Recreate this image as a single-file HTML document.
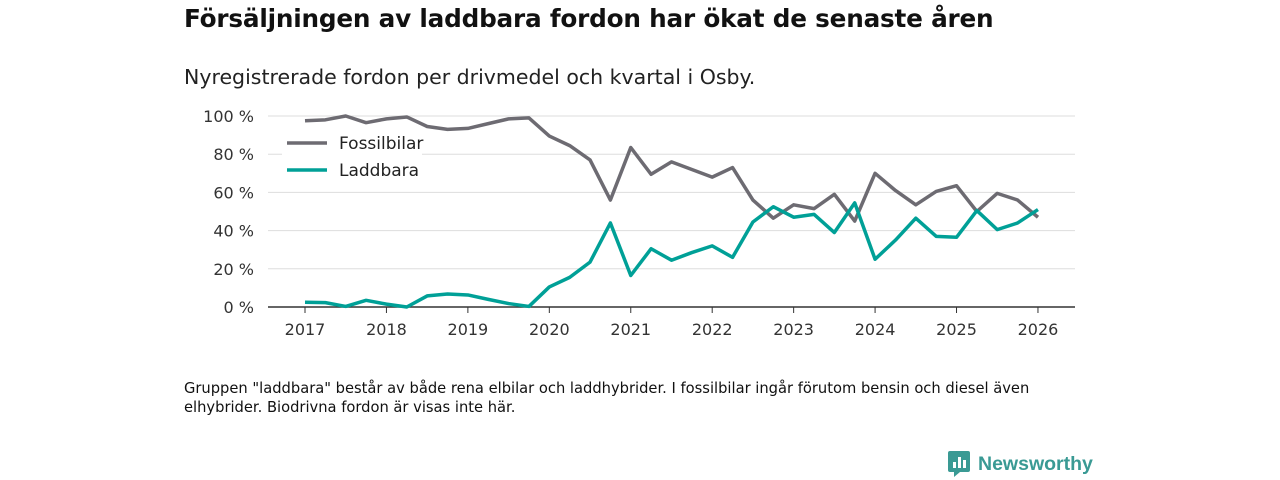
<!DOCTYPE html>
<html><head><meta charset="utf-8"><style>
body{margin:0;width:1280px;height:480px;background:#fff;font-family:"DejaVu Sans","Liberation Sans",sans-serif;color:#111;position:relative;overflow:hidden}
#title{position:absolute;left:184px;top:4px;font-size:24.7px;font-weight:bold;letter-spacing:-0.2px}
#sub{position:absolute;left:184px;top:65px;font-size:20.5px;color:#222}
#note{position:absolute;left:184px;top:379px;font-size:14.7px;line-height:19px;width:870px}
#logo{position:absolute;left:948px;top:451px;display:flex;align-items:center;gap:8px;color:#3a9a94;font-size:19.5px;font-weight:bold;font-family:"Liberation Sans",sans-serif}
svg{position:absolute;left:0;top:0}
</style></head><body>
<div id="title">Försäljningen av laddbara fordon har ökat de senaste åren</div>
<div id="sub">Nyregistrerade fordon per drivmedel och kvartal i Osby.</div>
<svg id="chart" width="1280" height="480"></svg>
<div id="note">Gruppen "laddbara" består av både rena elbilar och laddhybrider. I fossilbilar ingår förutom bensin och diesel även elhybrider. Biodrivna fordon är visas inte här.</div>
<div id="logo"><svg width="22" height="26" style="position:static" viewBox="0 0 22 26"><rect x="0" y="0" width="22" height="21" rx="2" fill="#3a9a94"/><polygon points="6,21 12,21 6,26" fill="#3a9a94"/><rect x="5" y="11" width="3" height="6" fill="#fff"/><rect x="10" y="6" width="3" height="11" fill="#fff"/><rect x="15" y="9" width="3" height="8" fill="#fff"/></svg>Newsworthy</div>
<script>
const years=[2017,2018,2019,2020,2021,2022,2023,2024,2025,2026];
const yTicks=[0,20,40,60,80,100];
const fossil=[97.5,98,100,96.5,98.5,99.5,94.5,93,93.5,96,98.5,99,89.5,84.5,77,56,83.5,69.5,76,72,68,73,56,46.5,53.5,51.5,59,45,70,61,53.5,60.5,63.5,50,59.5,56,47];
const laddbara=[2.5,2.3,0.3,3.5,1.5,0,5.8,6.8,6.3,4,1.8,0.3,10.5,15.5,23.5,44,16.5,30.5,24.5,28.5,32,26,44.5,52.5,47,48.5,39,54.5,25,35,46.5,37,36.5,50.5,40.5,44,51];
const svg=document.getElementById('chart');const NS='http://www.w3.org/2000/svg';
const X=t=>305+(t-2017)*81.44, Y=v=>307-v*1.91;
function el(tag,a){const e=document.createElementNS(NS,tag);for(const k in a)e.setAttribute(k,a[k]);svg.appendChild(e);return e;}
yTicks.forEach(v=>{
 if(v>0){const g=el('line',{x1:268,x2:1075,y1:Y(v),y2:Y(v),stroke:'#ddd','stroke-width':1});
 
 }
 const t=el('text',{x:254,y:Y(v)+6,'text-anchor':'end','font-size':16,fill:'#333','font-family':'DejaVu Sans, sans-serif'});t.textContent=v+' %';
 
 
});
const ax=el('line',{x1:268,x2:1075,y1:307,y2:307,stroke:'#333','stroke-width':1.5});


years.forEach(yr=>{
 const tk=el('line',{x1:X(yr),x2:X(yr),y1:307,y2:313,stroke:'#333','stroke-width':1});
 
 
 const t=el('text',{x:X(yr),y:335,'text-anchor':'middle','font-size':16,fill:'#333','font-family':'DejaVu Sans, sans-serif'});t.textContent=yr;
 
 
});
function line(data,color,name){
 const p=el('polyline',{points:data.map((v,i)=>X(2017+i/4)+','+Y(v)).join(' '),fill:'none',stroke:color,'stroke-width':3.5,'stroke-linejoin':'round'});
 
 
}
line(fossil,'#6d6b72','fossilbilar-line');
line(laddbara,'#00a097','laddbara-line');
const lbg=el('rect',{x:282,y:128,width:140,height:58,fill:'#fff'});


[['Fossilbilar','#6d6b72',143],['Laddbara','#00a097',170]].forEach(([n,c,y])=>{
 const l=el('line',{x1:287,x2:327,y1:y,y2:y,stroke:c,'stroke-width':3.5});
 
 
 const t=el('text',{x:339,y:y+6,'font-size':17,fill:'#222','font-family':'DejaVu Sans, sans-serif'});t.textContent=n;
 
 
});
</script>
</body></html>
